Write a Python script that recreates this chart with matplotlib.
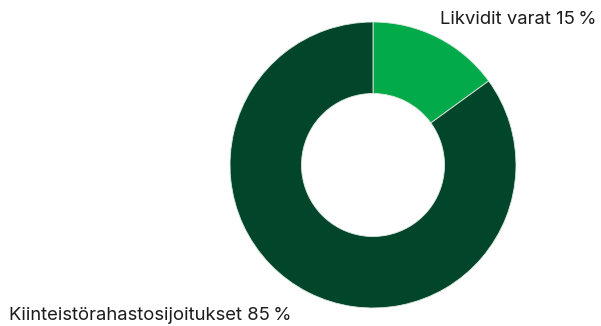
import matplotlib
matplotlib.use("Agg")
import matplotlib.pyplot as plt

labels = ["Likvidit varat", "Kiinteistörahastosijoitukset"]
shares = [15, 85]
colors = ["#03aa4a", "#01462a"]

W, H = 601, 326
fig = plt.figure(figsize=(W / 100, H / 100), dpi=100)
ax = fig.add_axes([0, 0, 1, 1])

ax.pie(shares, colors=colors, startangle=90, counterclock=False,
       center=(373, 161), radius=143,
       wedgeprops=dict(width=71.5, edgecolor="#dfe9e2", linewidth=0.6))

ax.set_xlim(0, W)
ax.set_ylim(0, H)
ax.set_aspect("equal")
ax.axis("off")

font = dict(family=["Inter", "DejaVu Sans"], fontsize=13.3, color="#1c1c1c")
ax.text(597, 307, f"{labels[0]} {shares[0]}\u2009%", ha="right", va="center", **font)
ax.text(9, 10, f"{labels[1]} {shares[1]}\u2009%", ha="left", va="center", **font)

fig.savefig("out.png", dpi=100)
